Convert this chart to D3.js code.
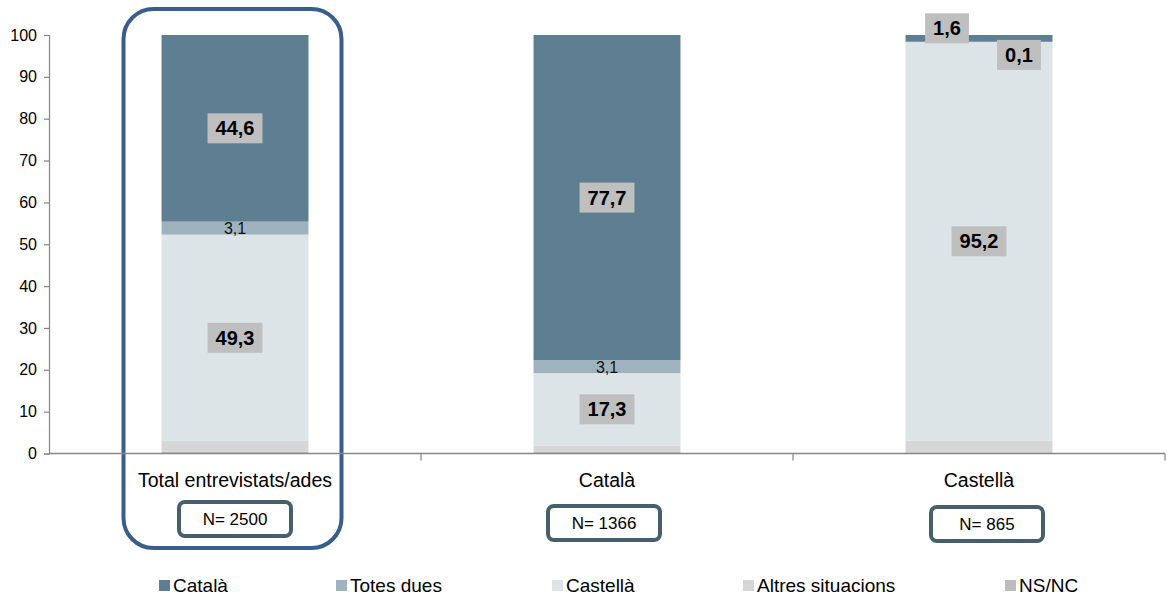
<!DOCTYPE html>
<html>
<head>
<meta charset="utf-8">
<script src="https://cdn.jsdelivr.net/npm/d3@7"></script>
<style>
  html, body { margin: 0; padding: 0; background: #fff; }
  svg { display: block; font-family: "Liberation Sans", Arial, sans-serif; }
</style>
</head>
<body>
<svg id="chart" width="1168" height="598"></svg>
<script>
// ---- data ----
const categories = ["Total entrevistats/ades", "Català", "Castellà"];
const sampleSizes = ["N= 2500", "N= 1366", "N= 865"];
const seriesNames = ["Català", "Totes dues", "Castellà", "Altres situacions", "NS/NC"];
const catalaValues = [44.6, 77.7, 1.6];
const totesDuesValues = [3.1, 3.1, 0.1];
const castellaValues = [49.3, 17.3, 95.2];
const altresValues = [2.6, 1.5, 3.0];
const nsncValues = [0.4, 0.4, 0.1];
const yTicks = [0, 10, 20, 30, 40, 50, 60, 70, 80, 90, 100];

const seriesValues = [catalaValues, totesDuesValues, castellaValues, altresValues, nsncValues];
const colors = ["#5d7f91", "#9fb3be", "#dde4e8", "#d6d6d6", "#bdbdbd"];

// ---- layout ----
const svg = d3.select("#chart");
const plotLeft = 49, plotRight = 1165, plotTop = 35, plotBottom = 453.5;

const x = d3.scaleBand().domain(categories).range([plotLeft, plotRight])
  .paddingInner(0.605).paddingOuter(0.3025);
const y = d3.scaleLinear().domain([0, 100]).range([plotBottom, plotTop]);

// build table and stack (bottom = NS/NC ... top = Català)
const table = categories.map((c, i) => {
  const row = { cat: c };
  seriesNames.forEach((s, j) => row[s] = seriesValues[j][i]);
  return row;
});
const stackKeys = seriesNames.slice().reverse();
const stacked = d3.stack().keys(stackKeys)(table);

// highlight frame around first category
svg.append("rect")
  .attr("x", 123.5).attr("y", 9).attr("width", 218).attr("height", 539)
  .attr("rx", 30).attr("ry", 30)
  .attr("fill", "none").attr("stroke", "#3a5e8c").attr("stroke-width", 4);

// bars
stacked.forEach(layer => {
  const color = colors[seriesNames.indexOf(layer.key)];
  svg.append("g").selectAll("rect").data(layer).join("rect")
    .attr("x", d => x(d.data.cat))
    .attr("width", x.bandwidth())
    .attr("y", d => y(d[1]))
    .attr("height", d => Math.max(0, y(d[0]) - y(d[1])))
    .attr("fill", color);
});

// axes
const yAxis = d3.axisLeft(y).tickValues(yTicks).tickSize(5).tickPadding(7).tickFormat(d3.format("d"));
const gy = svg.append("g").attr("transform", `translate(${plotLeft},0)`).call(yAxis);
gy.select(".domain").attr("stroke", "#868686").attr("stroke-width", 1.2);
gy.selectAll(".tick line").attr("stroke", "#868686").attr("stroke-width", 1.2);
gy.selectAll(".tick text").attr("font-size", 16).attr("fill", "#000")
  .attr("font-family", "Liberation Sans, Arial, sans-serif");

const gx = svg.append("g");
gx.append("line").attr("x1", plotLeft).attr("x2", plotRight).attr("y1", plotBottom).attr("y2", plotBottom)
  .attr("stroke", "#868686").attr("stroke-width", 1.5);
const boundaries = categories.map((c, i) => plotLeft + x.step() * (i + 1));
gx.selectAll("line.tk").data(boundaries).join("line").attr("class", "tk")
  .attr("x1", d => d).attr("x2", d => d).attr("y1", plotBottom).attr("y2", plotBottom + 7)
  .attr("stroke", "#868686").attr("stroke-width", 1.2);

// category labels
svg.append("g").selectAll("text").data(categories).join("text")
  .attr("x", d => x(d) + x.bandwidth() / 2)
  .attr("y", 487)
  .attr("text-anchor", "middle").attr("font-size", 19.5).attr("fill", "#000")
  .text(d => d);

// N boxes
const nOffsets = [0, -3, 8];
const nY = [519, 523, 524];
categories.forEach((c, i) => {
  const cx = x(c) + x.bandwidth() / 2 + nOffsets[i];
  const g = svg.append("g");
  g.append("rect").attr("x", cx - 56).attr("y", nY[i] - 17).attr("width", 112).attr("height", 34)
    .attr("rx", 6).attr("ry", 6).attr("fill", "#fff")
    .attr("stroke", "#455f6e").attr("stroke-width", 4);
  g.append("text").attr("x", cx).attr("y", nY[i] + 6)
    .attr("text-anchor", "middle").attr("font-size", 17).attr("fill", "#000")
    .text(sampleSizes[i]);
});

// value labels
const fmt = v => d3.format(".1f")(v).replace(".", ",");
function boxedLabel(cx, cy, txt) {
  const g = svg.append("g");
  const r = g.append("rect").attr("fill", "#bfbfbf");
  const t = g.append("text").attr("x", cx).attr("y", cy + 7)
    .attr("text-anchor", "middle").attr("font-size", 20).attr("font-weight", "bold")
    .attr("fill", "#000").text(txt);
  const bb = t.node().getBBox();
  r.attr("x", bb.x - 8).attr("y", cy - 15).attr("width", bb.width + 16).attr("height", 30);
}
function plainLabel(cx, cy, txt) {
  svg.append("text").attr("x", cx).attr("y", cy + 6)
    .attr("text-anchor", "middle").attr("font-size", 16).attr("fill", "#111").text(txt);
}

// special placement for thin segments in third column
const specialOffsets = { "Castellà|Català": [-32, -10], "Castellà|Totes dues": [40, 13] };

stacked.forEach(layer => {
  const key = layer.key;
  if (key === "Altres situacions" || key === "NS/NC") return;
  layer.forEach(d => {
    const cat = d.data.cat;
    const v = d.data[key];
    const cx = x(cat) + x.bandwidth() / 2;
    const cy = y((d[0] + d[1]) / 2);
    const sp = specialOffsets[cat + "|" + key];
    if (sp) {
      boxedLabel(cx + sp[0], cy + sp[1], fmt(v));
    } else if (key === "Totes dues") {
      plainLabel(cx, cy, fmt(v));
    } else {
      boxedLabel(cx, cy, fmt(v));
    }
  });
});

// legend
const legendX = [159, 336, 552, 743, 1005];
const lg = svg.append("g");
seriesNames.forEach((s, i) => {
  lg.append("rect").attr("x", legendX[i]).attr("y", 580).attr("width", 11).attr("height", 11)
    .attr("fill", colors[i]);
  lg.append("text").attr("x", legendX[i] + 14).attr("y", 592)
    .attr("font-size", 19).attr("fill", "#000").text(s);
});
</script>
</body>
</html>
